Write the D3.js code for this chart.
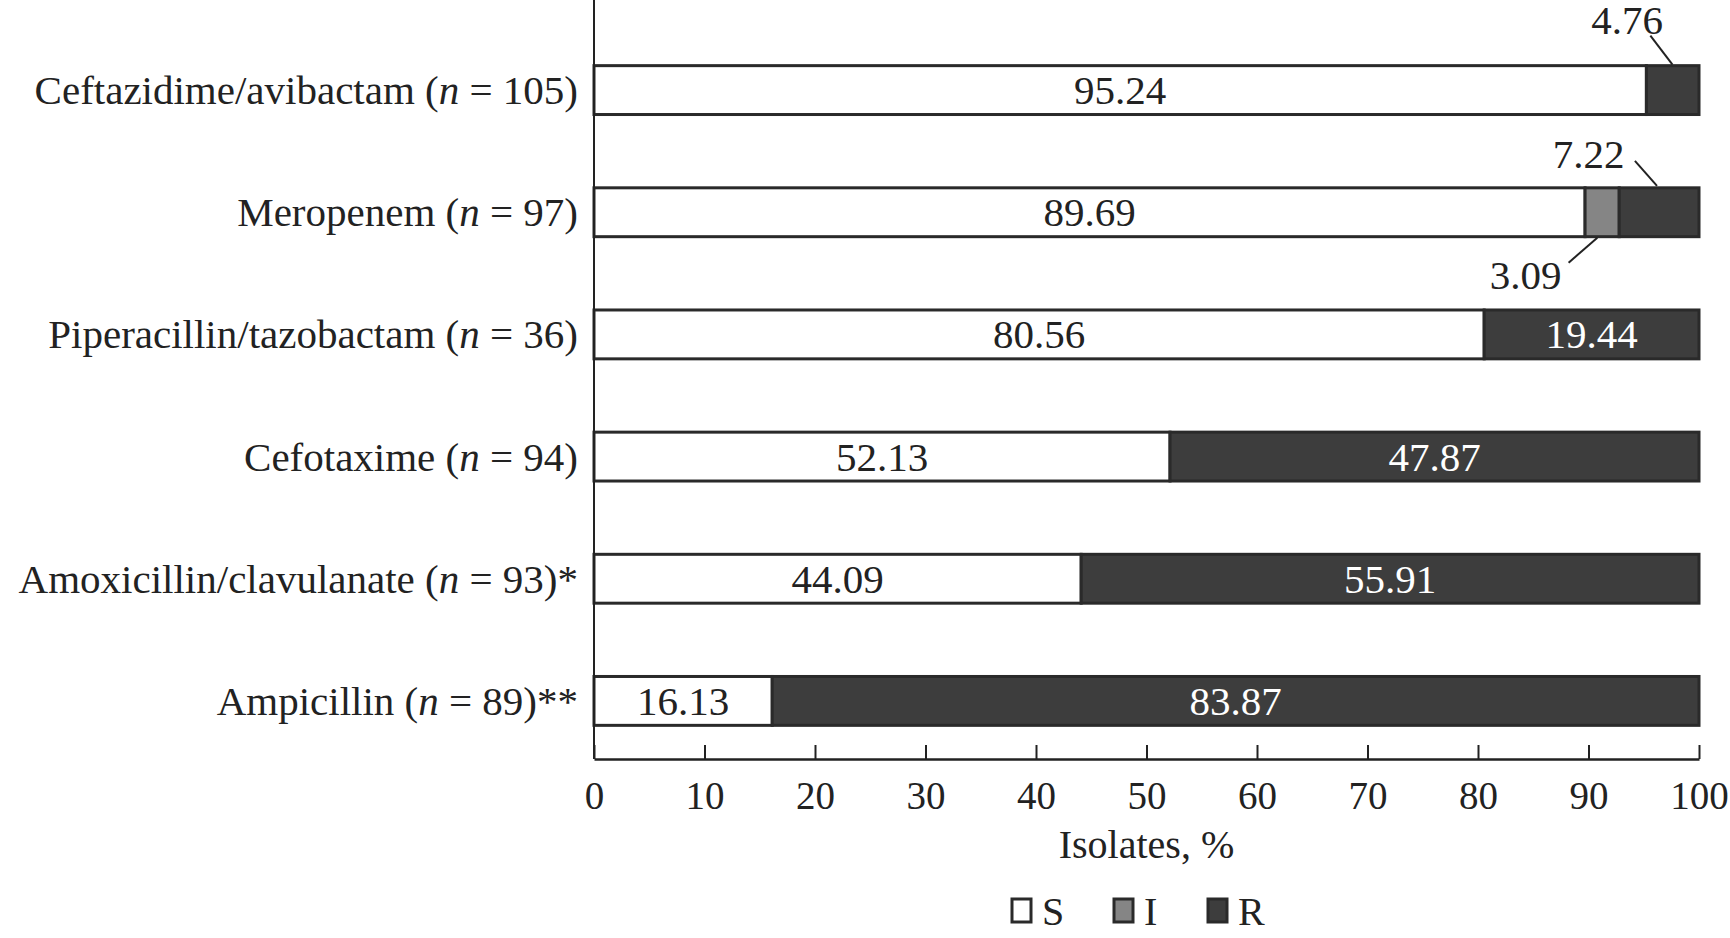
<!DOCTYPE html>
<html><head><meta charset="utf-8">
<script src="https://cdn.jsdelivr.net/npm/d3@7"></script>
<style>body{margin:0;background:#fff}text{font-family:"Liberation Serif","DejaVu Serif",serif;fill:#222}</style>
</head><body><svg id="chart" width="1730" height="938"></svg>
<script>
/* Data */
const drugs = ['Ceftazidime/avibactam', 'Meropenem', 'Piperacillin/tazobactam', 'Cefotaxime', 'Amoxicillin/clavulanate', 'Ampicillin'];
const counts = [105, 97, 36, 94, 93, 89];
const marks = ['', '', '', '', '*', '**'];
const sValues = [95.24, 89.69, 80.56, 52.13, 44.09, 16.13];
const iValues = [0, 3.09, 0, 0, 0, 0];
const rValues = [4.76, 7.22, 19.44, 47.87, 55.91, 83.87];
const xTicks = [0, 10, 20, 30, 40, 50, 60, 70, 80, 90, 100];
const keys = ['S', 'I', 'R'];
const colors = { S: '#ffffff', I: '#858585', R: '#3d3d3d' };

const svg = d3.select('#chart');
const x = d3.scaleLinear().domain([0, 100]).range([594, 1699]);
const y = d3.scaleBand().domain(drugs).range([29, 762]).paddingInner(0.6).paddingOuter(0.3);
const axisY = 759;

/* Stacked rows */
const rows = drugs.map((d, i) => ({ drug: d, S: sValues[i], I: iValues[i], R: rValues[i] }));
const stack = d3.stack().keys(keys)(rows);
stack.forEach(layer => {
    svg.append('g').selectAll('rect')
        .data(layer.filter(s => s[1] - s[0] > 0))
        .join('rect')
        .attr('x', s => x(s[0]))
        .attr('y', s => y(s.data.drug))
        .attr('width', s => x(s[1]) - x(s[0]))
        .attr('height', y.bandwidth())
        .attr('fill', colors[layer.key])
        .attr('stroke', '#2a2a2a')
        .attr('stroke-width', 3);
});

/* Inner value labels */
rows.forEach((r, i) => {
    const cy = y(r.drug) + y.bandwidth() / 2 + 14;
    svg.append('text').attr('x', x(r.S / 2)).attr('y', cy).attr('text-anchor', 'middle')
        .style('font-size', '41px').text(r.S.toFixed(2));
    if (r.R > 10) {
        svg.append('text').attr('x', x(r.S + r.I + r.R / 2)).attr('y', cy).attr('text-anchor', 'middle')
            .style('font-size', '41px').style('fill', '#fff').text(r.R.toFixed(2));
    }
});

/* Callouts for small segments */
function callout(val, x1, y1, x2, y2, tx, ty) {
    svg.append('line').attr('x1', x(x1)).attr('y1', y1).attr('x2', x(x2)).attr('y2', y2)
        .attr('stroke', '#222').attr('stroke-width', 2);
    svg.append('text').attr('x', x(tx)).attr('y', ty).attr('text-anchor', 'middle')
        .style('font-size', '41px').text(val.toFixed(2));
}
const b0 = y(drugs[0]), b1 = y(drugs[1]), bb = y.bandwidth();
callout(rValues[0], 95.6, b0 - 30, 97.6, b0 - 1, 93.5, b0 - 32);
callout(rValues[1], 94.2, b1 - 27, 96.2, b1 - 2, 90.0, b1 - 20);
callout(iValues[1], 90.8, bb + b1 + 1, 88.2, b1 + bb + 26, 84.3, b1 + bb + 52);

/* Category labels */
drugs.forEach((d, i) => {
    const t = svg.append('text').attr('x', 578).attr('y', y(d) + bb / 2 + 14)
        .attr('text-anchor', 'end').style('font-size', '41px');
    t.append('tspan').text(d + ' (');
    t.append('tspan').style('font-style', 'italic').text('n');
    t.append('tspan').text(' = ' + counts[i] + ')' + marks[i]);
});

/* Axes */
svg.append('line').attr('x1', x(0)).attr('x2', x(0)).attr('y1', 0).attr('y2', axisY)
    .attr('stroke', '#222').attr('stroke-width', 2);
const xAxis = svg.append('g').attr('transform', `translate(0,${axisY})`)
    .call(d3.axisBottom(x).tickValues(xTicks).tickSizeInner(-14).tickSizeOuter(0).tickPadding(22));
xAxis.select('.domain').attr('stroke', '#222').attr('stroke-width', 2.5);
xAxis.selectAll('.tick line').attr('stroke', '#222').attr('stroke-width', 2);
xAxis.selectAll('.tick text').style('font-size', '39px').style('font-family', '"Liberation Serif",serif').attr('fill', '#222');

svg.append('text').attr('x', x(50)).attr('y', 858).attr('text-anchor', 'middle')
    .style('font-size', '40px').text('Isolates, %');

/* Legend */
const legendX = [1012, 1114, 1208];
keys.forEach((k, i) => {
    svg.append('rect').attr('x', legendX[i]).attr('y', 899).attr('width', 19).attr('height', 23)
        .attr('fill', colors[k]).attr('stroke', '#2a2a2a').attr('stroke-width', 3);
    svg.append('text').attr('x', legendX[i] + 30).attr('y', 925).style('font-size', '40px').text(k);
});
</script></body></html>
